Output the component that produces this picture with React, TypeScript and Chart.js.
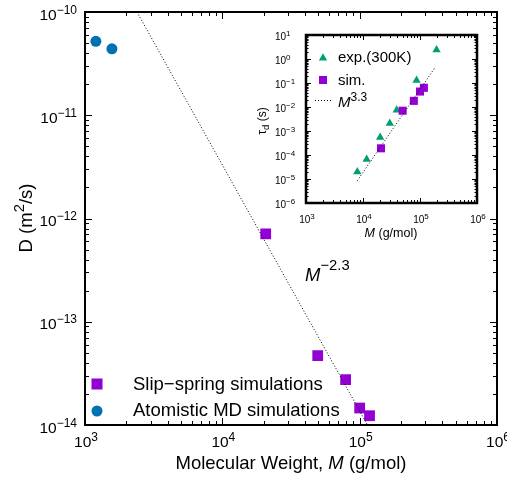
import React, { useEffect, useRef } from 'react';
import { Chart, registerables } from 'chart.js';

Chart.register(...registerables);

// ---------- Main chart data ----------
const slipM = [20700, 49500, 79000, 100000, 118000];
const slipD = [7.1e-13, 4.7e-14, 2.75e-14, 1.46e-14, 1.23e-14];
const mdM = [1200, 1570];
const mdD = [5.2e-11, 4.4e-11];
const fitM = [2390, 114000];
const fitD = [1e-10, 1e-14];
const mainXExps = [3, 4, 5, 6];
const mainYExps = [-14, -13, -12, -11, -10];

// ---------- Inset data ----------
const expM = [7950, 11600, 20000, 29500, 39000, 87000, 195000];
const expTau = [2e-5, 6.6e-5, 5.5e-4, 2.1e-3, 7.5e-3, 0.13, 2.4];
const simM = [20700, 49600, 78000, 100000, 117000];
const simTau = [1.9e-4, 7e-3, 0.018, 0.044, 0.063];
const insetFitM = [7950, 183000];
const insetFitTau = [8.5e-6, 0.44];
const insetXExps = [3, 4, 5, 6];
const insetYExps = [-6, -5, -4, -3, -2, -1, 0, 1];

const PURPLE = '#9400D3';
const BLUE = '#0072B2';
const GREEN = '#009E73';

type Part = { t: string; s: number; i?: boolean; dy?: number };

function font(s: number, i?: boolean) {
  return `${i ? 'italic ' : ''}${s}px "Liberation Sans", Arial, sans-serif`;
}

function drawRich(ctx: CanvasRenderingContext2D, parts: Part[], x: number, y: number, align: 'left' | 'center' | 'right') {
  let w = 0;
  const ws = parts.map((p) => {
    ctx.font = font(p.s, p.i);
    const m = ctx.measureText(p.t).width;
    w += m;
    return m;
  });
  let cx = align === 'left' ? x : align === 'center' ? x - w / 2 : x - w;
  ctx.textAlign = 'left';
  ctx.textBaseline = 'alphabetic';
  parts.forEach((p, k) => {
    ctx.font = font(p.s, p.i);
    ctx.fillText(p.t, cx, y - (p.dy || 0));
    cx += ws[k];
  });
}

const pow = (e: number) => (e < 0 ? '\u2212' + -e : String(e));

function drawLogTicks(
  ctx: CanvasRenderingContext2D,
  chart: any,
  xExps: number[],
  yExps: number[],
  xMaj: number,
  xMin: number,
  yMaj: number,
  yMin: number
) {
  const a = chart.chartArea;
  const xs = chart.scales.x;
  const ys = chart.scales.y;
  ctx.lineWidth = 1;
  ctx.strokeStyle = '#000';
  ctx.beginPath();
  for (let e = xExps[0]; e <= xExps[xExps.length - 1]; e++) {
    for (let m = 1; m < 10; m++) {
      if (e === xExps[xExps.length - 1] && m > 1) break;
      const px = Math.round(xs.getPixelForValue(m * Math.pow(10, e))) + 0.5;
      const len = m === 1 ? xMaj : xMin;
      if (len <= 0) continue;
      ctx.moveTo(px, a.bottom);
      ctx.lineTo(px, a.bottom - len);
      ctx.moveTo(px, a.top);
      ctx.lineTo(px, a.top + len);
    }
  }
  for (let e = yExps[0]; e <= yExps[yExps.length - 1]; e++) {
    for (let m = 1; m < 10; m++) {
      if (e === yExps[yExps.length - 1] && m > 1) break;
      const py = Math.round(ys.getPixelForValue(m * Math.pow(10, e))) + 0.5;
      const len = m === 1 ? yMaj : yMin;
      if (len <= 0) continue;
      ctx.moveTo(a.left, py);
      ctx.lineTo(a.left + len, py);
      ctx.moveTo(a.right, py);
      ctx.lineTo(a.right - len, py);
    }
  }
  ctx.stroke();
}

const mainDecor = {
  id: 'mainDecor',
  afterDatasetsDraw(chart: any) {
    const ctx: CanvasRenderingContext2D = chart.ctx;
    const a = chart.chartArea;
    const xs = chart.scales.x;
    const ys = chart.scales.y;
    ctx.save();
    drawLogTicks(ctx, chart, mainXExps, mainYExps, 7, 4, 7, 4);
    ctx.lineWidth = 2;
    ctx.strokeStyle = '#000';
    ctx.strokeRect(a.left, a.top, a.right - a.left, a.bottom - a.top);

    ctx.fillStyle = '#000';
    mainXExps.forEach((e) => {
      drawRich(ctx, [{ t: '10', s: 15.5 }, { t: pow(e), s: 12, dy: 6 }], xs.getPixelForValue(Math.pow(10, e)) + 1, a.bottom + 22, 'center');
    });
    mainYExps.forEach((e) => {
      drawRich(ctx, [{ t: '10', s: 15.5 }, { t: pow(e), s: 12, dy: 6 }], a.left - 8, ys.getPixelForValue(Math.pow(10, e)) + 7.5, 'right');
    });

    // axis titles
    drawRich(
      ctx,
      [
        { t: 'Molecular Weight, ', s: 18.5 },
        { t: 'M', s: 18.5, i: true },
        { t: ' (g/mol)', s: 18.5 },
      ],
      291,
      468.5,
      'center'
    );
    ctx.save();
    ctx.translate(32, 218);
    ctx.rotate(-Math.PI / 2);
    drawRich(ctx, [{ t: 'D (m', s: 18.5 }, { t: '2', s: 14.8, dy: 8 }, { t: '/s)', s: 18.5 }], 0, 0, 'center');
    ctx.restore();

    // annotation
    drawRich(ctx, [{ t: 'M', s: 18.5, i: true }, { t: '\u22122.3', s: 14.8, dy: 11 }], 305, 281, 'left');

    // legend
    ctx.fillStyle = PURPLE;
    ctx.fillRect(97 - 5.5, 384 - 5.5, 11, 11);
    ctx.fillStyle = BLUE;
    ctx.beginPath();
    ctx.arc(97, 411, 5.5, 0, Math.PI * 2);
    ctx.fill();
    ctx.fillStyle = '#000';
    drawRich(ctx, [{ t: 'Slip\u2212spring simulations', s: 18.5 }], 133, 390, 'left');
    drawRich(ctx, [{ t: 'Atomistic MD simulations', s: 18.5 }], 133, 416, 'left');
    ctx.restore();
  },
};

const insetDecor = {
  id: 'insetDecor',
  afterDatasetsDraw(chart: any) {
    const ctx: CanvasRenderingContext2D = chart.ctx;
    const a = chart.chartArea;
    const xs = chart.scales.x;
    const ys = chart.scales.y;
    ctx.save();
    drawLogTicks(ctx, chart, insetXExps, insetYExps, 5, 3, 5, 2.5);
    ctx.lineWidth = 2.5;
    ctx.strokeStyle = '#000';
    ctx.strokeRect(a.left, a.top, a.right - a.left, a.bottom - a.top);

    ctx.fillStyle = '#000';
    insetXExps.forEach((e) => {
      drawRich(ctx, [{ t: '10', s: 10 }, { t: pow(e), s: 8, dy: 4 }], xs.getPixelForValue(Math.pow(10, e)) + 1, a.bottom + 20, 'center');
    });
    insetYExps.forEach((e) => {
      drawRich(ctx, [{ t: '10', s: 10 }, { t: pow(e), s: 8, dy: 4 }], 275, ys.getPixelForValue(Math.pow(10, e)) + 4.5, 'left');
    });

    drawRich(ctx, [{ t: 'M', s: 12.5, i: true }, { t: ' (g/mol)', s: 12.5 }], 391, 237, 'center');
    ctx.save();
    ctx.translate(266, 121);
    ctx.rotate(-Math.PI / 2);
    drawRich(ctx, [{ t: '\u03c4', s: 12 }, { t: 'd', s: 9.6, dy: -3 }, { t: ' (s)', s: 12 }], 0, 0, 'center');
    ctx.restore();

    // legend
    ctx.fillStyle = GREEN;
    ctx.beginPath();
    const r = 4.8;
    ctx.moveTo(323, 58 - r);
    ctx.lineTo(323 + 0.866 * r, 58 + 0.5 * r);
    ctx.lineTo(323 - 0.866 * r, 58 + 0.5 * r);
    ctx.closePath();
    ctx.fill();
    ctx.fillStyle = PURPLE;
    ctx.fillRect(323 - 4, 80 - 4, 8, 8);
    ctx.strokeStyle = '#000';
    ctx.lineWidth = 1;
    ctx.setLineDash([1, 2]);
    ctx.beginPath();
    ctx.moveTo(315, 100.5);
    ctx.lineTo(331, 100.5);
    ctx.stroke();
    ctx.setLineDash([]);
    ctx.fillStyle = '#000';
    drawRich(ctx, [{ t: 'exp.(300K)', s: 15 }], 338, 62, 'left');
    drawRich(ctx, [{ t: 'sim.', s: 15 }], 338, 85, 'left');
    drawRich(ctx, [{ t: 'M', s: 15, i: true }, { t: '3.3', s: 12, dy: 6.5 }], 338, 107, 'left');
    ctx.restore();
  },
};

const pts = (xs: number[], ys: number[]) => xs.map((x, i) => ({ x, y: ys[i] }));

export default function App() {
  const mainRef = useRef<HTMLCanvasElement>(null);
  const insetRef = useRef<HTMLCanvasElement>(null);

  useEffect(() => {
    const common = {
      animation: false as const,
      responsive: false,
      events: [] as any[],
      plugins: { legend: { display: false }, tooltip: { enabled: false } },
    };
    const c1 = new Chart(mainRef.current!, {
      type: 'scatter',
      data: {
        datasets: [
          {
            label: 'M^-2.3',
            data: pts(fitM, fitD),
            showLine: true,
            pointRadius: 0,
            borderColor: '#000',
            borderWidth: 1,
            borderDash: [1, 2],
            order: 0,
          },
          {
            label: 'Slip-spring simulations',
            data: pts(slipM, slipD),
            pointStyle: 'rect',
            pointRadius: 7.6,
            pointBackgroundColor: PURPLE,
            pointBorderWidth: 0,
            order: 1,
          },
          {
            label: 'Atomistic MD simulations',
            data: pts(mdM, mdD),
            pointStyle: 'circle',
            pointRadius: 5.5,
            pointBackgroundColor: BLUE,
            pointBorderWidth: 0,
            order: 2,
          },
        ],
      },
      options: {
        ...common,
        layout: { padding: { left: 85, right: 10, top: 12, bottom: 52 } },
        scales: {
          x: { type: 'logarithmic', min: 1e3, max: 1e6, display: false },
          y: { type: 'logarithmic', min: 1e-14, max: 1e-10, display: false },
        },
      } as any,
      plugins: [mainDecor],
    });
    const c2 = new Chart(insetRef.current!, {
      type: 'scatter',
      data: {
        datasets: [
          {
            label: 'M^3.3',
            data: pts(insetFitM, insetFitTau),
            showLine: true,
            pointRadius: 0,
            borderColor: '#000',
            borderWidth: 1,
            borderDash: [1, 2],
            order: 0,
          },
          {
            label: 'sim.',
            data: pts(simM, simTau),
            pointStyle: 'rect',
            pointRadius: 5.7,
            pointBackgroundColor: PURPLE,
            pointBorderWidth: 0,
            order: 1,
          },
          {
            label: 'exp.(300K)',
            data: pts(expM, expTau),
            pointStyle: 'triangle',
            pointRadius: 4.8,
            pointBackgroundColor: GREEN,
            pointBorderWidth: 0,
            order: 2,
          },
        ],
      },
      options: {
        ...common,
        layout: { padding: { left: 306, right: 30, top: 35, bottom: 274 } },
        scales: {
          x: { type: 'logarithmic', min: 1e3, max: 1e6, display: false },
          y: { type: 'logarithmic', min: 1e-6, max: 1e1, display: false },
        },
      } as any,
      plugins: [insetDecor],
    });
    return () => {
      c1.destroy();
      c2.destroy();
    };
  }, []);

  return (
    <div style={{ position: 'absolute', left: 0, top: 0, width: 507, height: 477, background: '#fff' }}>
      <canvas ref={mainRef} width={507} height={477} style={{ position: 'absolute', left: 0, top: 0 }} />
      <canvas ref={insetRef} width={507} height={477} style={{ position: 'absolute', left: 0, top: 0 }} />
    </div>
  );
}
